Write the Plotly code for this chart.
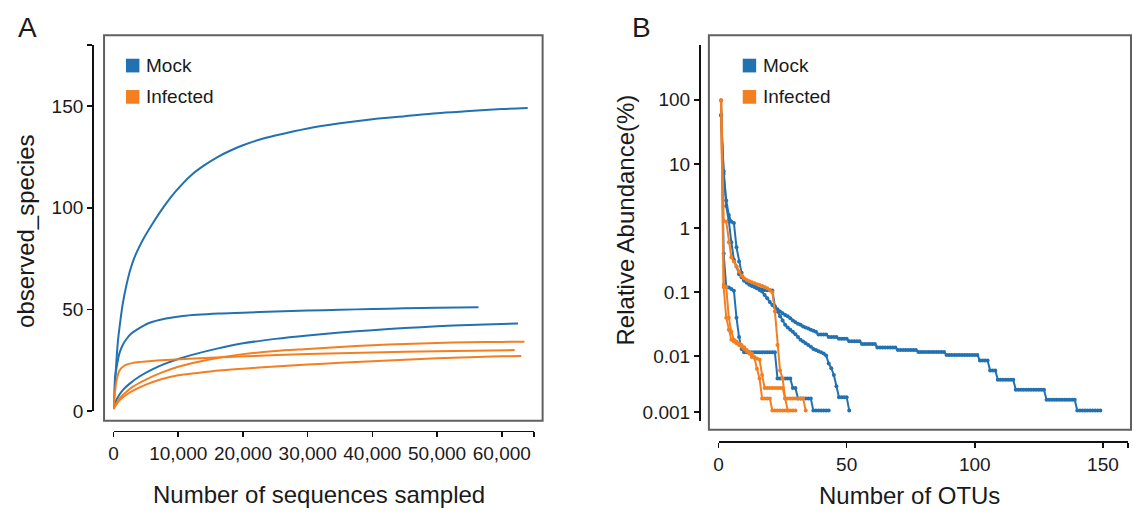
import plotly.graph_objects as go

W, H = 1133, 517
BLUE = "#2271b1"
ORANGE = "#f37f21"
FONT = "Liberation Sans, Arial, sans-serif"

# ---------------- Panel A: rarefaction curves ----------------
mock1_seq = [0, 250, 670, 1000, 1440, 2000, 2500, 3000, 3500, 4500, 6000, 8000, 9600, 12000,
             14000, 16000, 18000, 20000, 22500, 25000, 30000, 35000, 40000, 45000, 50000,
             55000, 60000, 64000]
mock1_obs = [1, 15, 34, 43, 53, 62, 68.5, 73.5, 77.5, 84, 92, 101.5, 108, 116,
             120.8, 124.8, 128, 130.7, 133.4, 135.5, 139, 141.5, 143.5, 145, 146.5,
             147.5, 148.5, 149]
mock2_seq = [0, 150, 500, 920, 1500, 1950, 2700, 3500, 5500, 8100, 10700, 16300, 20000, 25000,
             30000, 35000, 40000, 45000, 50000, 56400]
mock2_obs = [1, 14, 22, 28.5, 33, 35.2, 38, 39.8, 43.3, 45.5, 46.8, 48, 48.4, 49,
             49.4, 49.8, 50.2, 50.5, 50.8, 51.1]
mock3_seq = [0, 300, 800, 1500, 2500, 4000, 6000, 8000, 10000, 12000, 16000, 20000, 25000,
             30000, 35000, 40000, 45000, 50000, 55000, 60000, 62500]
mock3_obs = [1, 4.5, 7.5, 10.5, 13.5, 17, 20.5, 23.3, 25.6, 27.5, 30.7, 33.3, 35.5,
             37.2, 38.6, 39.8, 40.8, 41.7, 42.3, 42.8, 43.1]
inf1_seq = [0, 150, 410, 920, 1700, 3000, 5500, 8100, 15000, 20000, 30000, 40000, 50000, 62000]
inf1_obs = [1, 6, 14, 20, 22.4, 23.7, 24.5, 25.1, 26.2, 26.9, 28, 28.8, 29.4, 30]
inf2_seq = [0, 500, 1000, 2000, 3000, 5000, 7500, 10000, 15000, 20000, 25000, 30000, 35000,
            40000, 45000, 50000, 55000, 60000, 63500]
inf2_obs = [1, 4, 6.5, 9.5, 12, 15.5, 19, 21.8, 25.5, 28, 29.5, 30.5, 31.5,
            32.4, 33, 33.5, 33.8, 34, 34.1]
inf3_seq = [0, 500, 1000, 2000, 3000, 5000, 7500, 10000, 15000, 20000, 25000, 30000, 35000,
            40000, 45000, 50000, 55000, 60000, 63000]
inf3_obs = [1, 3.5, 5.5, 8, 10, 13, 15.8, 17.6, 19.5, 20.8, 21.9, 22.9, 23.7,
            24.5, 25.2, 26, 26.5, 26.9, 27.1]

a_xticks = [0, 10000, 20000, 30000, 40000, 50000, 60000, 65000]
a_xtext = ["0", "10,000", "20,000", "30,000", "40,000", "50,000", "60,000", ""]
a_yticks = [0, 50, 100, 150, 180]
a_ytext = ["0", "50", "100", "150", ""]

# ---------------- Panel B: rank-abundance curves (relative abundance %, by OTU rank) -------
mockA_abund = [57, 7.7, 2.7, 1.6, 1.25, 1.2, 0.5, 0.3, 0.2, 0.155,
               0.145, 0.14, 0.135, 0.125, 0.115, 0.108, 0.102, 0.09, 0.08, 0.07,
               0.063, 0.058, 0.054, 0.05, 0.047, 0.044, 0.042, 0.039, 0.036, 0.034,
               0.032, 0.031, 0.029, 0.028, 0.027, 0.026, 0.025, 0.024,
               0.0219, 0.0219, 0.0219, 0.0219,
               0.0200, 0.0200, 0.0200, 0.0200,
               0.0188, 0.0188, 0.0188, 0.0188,
               0.0172, 0.0172, 0.0172, 0.0172, 0.0172,
               0.0155, 0.0155, 0.0155, 0.0155, 0.0155, 0.0155,
               0.0137, 0.0137, 0.0137, 0.0137, 0.0137, 0.0137, 0.0137, 0.0137,
               0.0125, 0.0125, 0.0125, 0.0125, 0.0125, 0.0125, 0.0125, 0.0125,
               0.0116, 0.0116, 0.0116, 0.0116, 0.0116, 0.0116, 0.0116, 0.0116,
               0.0116, 0.0116, 0.0116,
               0.0105, 0.0105, 0.0105, 0.0105, 0.0105, 0.0105, 0.0105, 0.0105,
               0.0105, 0.0105, 0.0105, 0.0105, 0.0105,
               0.0086, 0.0086, 0.0086, 0.0086,
               0.0060, 0.0060, 0.0060,
               0.0043, 0.0043, 0.0043, 0.0043, 0.0043, 0.0043, 0.0043,
               0.0030, 0.0030, 0.0030, 0.0030, 0.0030, 0.0030, 0.0030, 0.0030,
               0.0030, 0.0030, 0.0030, 0.0030,
               0.0021, 0.0021, 0.0021, 0.0021, 0.0021, 0.0021, 0.0021, 0.0021,
               0.0021, 0.0021, 0.0021, 0.0021,
               0.00143, 0.00143, 0.00143, 0.00143, 0.00143, 0.00143, 0.00143,
               0.00143, 0.00143, 0.00143]
mockB_abund = [58, 7, 2.2, 1.3, 0.6, 0.32, 0.25, 0.19, 0.17, 0.15,
               0.14, 0.13, 0.125, 0.12, 0.115, 0.112, 0.11, 0.108, 0.107, 0.107,
               0.106, 0.06, 0.05, 0.042, 0.036, 0.031, 0.028, 0.026, 0.024, 0.022,
               0.02, 0.018, 0.017, 0.016, 0.015, 0.014, 0.013, 0.0125, 0.012, 0.0115,
               0.011, 0.0103, 0.0077, 0.0065, 0.0051, 0.0034, 0.0023, 0.0023, 0.0023, 0.0023,
               0.00143]
mockC_abund = [98, 0.4, 0.12, 0.118, 0.112, 0.105, 0.04, 0.02, 0.013,
               0.0115, 0.0115, 0.0115, 0.0115, 0.0115, 0.0115, 0.0115, 0.0115, 0.0115,
               0.0115, 0.0115, 0.0115, 0.0115,
               0.0045, 0.0045, 0.0045, 0.0045, 0.0045, 0.0045,
               0.0032, 0.0032,
               0.0022, 0.0022, 0.0022, 0.0022, 0.0022, 0.0022,
               0.00143, 0.00143, 0.00143, 0.00143, 0.00143, 0.00143, 0.00143]
infA_abund = [98.5, 1.3, 1.25, 0.6, 0.35, 0.3, 0.25, 0.21, 0.18, 0.165,
              0.155, 0.148, 0.142, 0.137, 0.133, 0.129, 0.125, 0.12, 0.115, 0.108,
              0.1, 0.05, 0.015, 0.006, 0.0045,
              0.0022, 0.0022, 0.0022, 0.0022, 0.0022, 0.0022, 0.0022, 0.0022,
              0.00143]
infB_abund = [98, 0.12, 0.04, 0.026, 0.018, 0.017, 0.016, 0.015, 0.014, 0.013,
              0.012, 0.011, 0.0097, 0.0095, 0.0064, 0.0045, 0.0022, 0.0022, 0.0022, 0.0022,
              0.00143, 0.00143, 0.00143, 0.00143, 0.00143, 0.00143, 0.00143, 0.00143,
              0.00143, 0.00143]
infC_abund = [97, 0.13, 0.12, 0.04, 0.024, 0.018, 0.017, 0.016, 0.015, 0.0138,
              0.0125, 0.0115, 0.011, 0.0097, 0.0092, 0.0088, 0.0051,
              0.0032, 0.0032, 0.0032, 0.0032, 0.0032, 0.0032, 0.0032, 0.0032,
              0.0022, 0.00143]

b_xticks = [0, 50, 100, 150, 159.8]
b_xtext = ["0", "50", "100", "150", ""]
b_yticks = [720, 100, 10, 1, 0.1, 0.01, 0.00135, 0.00098]
b_ytext = ["", "100", "10", "1", "0.1", "0.01", "0.001", ""]

groups = ["Mock", "Infected"]


def fx(px):
    return px / W


def fy(py):
    return 1 - py / H


fig = go.Figure()

for xs, ys, c in [(mock1_seq, mock1_obs, BLUE), (mock2_seq, mock2_obs, BLUE),
                  (mock3_seq, mock3_obs, BLUE), (inf1_seq, inf1_obs, ORANGE),
                  (inf2_seq, inf2_obs, ORANGE), (inf3_seq, inf3_obs, ORANGE)]:
    fig.add_trace(go.Scatter(x=xs, y=ys, mode="lines", xaxis="x", yaxis="y",
                             line=dict(color=c, width=2, shape="spline", smoothing=0.8),
                             showlegend=False, hoverinfo="skip"))

for vals, c in [(mockA_abund, BLUE), (mockB_abund, BLUE), (mockC_abund, BLUE),
                (infA_abund, ORANGE), (infB_abund, ORANGE), (infC_abund, ORANGE)]:
    fig.add_trace(go.Scatter(x=list(range(1, len(vals) + 1)), y=vals, mode="lines+markers",
                             xaxis="x2", yaxis="y2",
                             line=dict(color=c, width=2),
                             marker=dict(color=c, size=4),
                             showlegend=False, hoverinfo="skip", cliponaxis=False))

axis_common = dict(showline=True, linecolor="#111", linewidth=1.6, ticks="outside",
                   ticklen=5, tickwidth=1.6, tickcolor="#111", showgrid=False,
                   zeroline=False, tickmode="array",
                   tickfont=dict(family=FONT, size=19, color="#1a1a1a"))

fig.update_layout(
    width=W, height=H,
    margin=dict(l=0, r=0, t=0, b=0),
    paper_bgcolor="white", plot_bgcolor="white",
    font=dict(family=FONT, color="#1a1a1a"),
    hovermode=False,
    xaxis=dict(domain=[fx(109), fx(531.5)], range=[0, 65000], anchor="free", position=fy(440),
               tickvals=a_xticks, ticktext=a_xtext, **axis_common),
    yaxis=dict(domain=[fy(420), fy(46)], range=[0, 180], anchor="free", position=fx(87.5),
               tickvals=a_yticks, ticktext=a_ytext, **axis_common),
    xaxis2=dict(domain=[fx(716.7), fx(1128)], range=[0, 159.8], anchor="free", position=fy(451),
                tickvals=b_xticks, ticktext=b_xtext, **axis_common),
    yaxis2=dict(domain=[fy(430), fy(46)], type="log", range=[-3.008, 2.855], anchor="free",
                position=fx(697), tickvals=b_yticks, ticktext=b_ytext, **axis_common),
)

shapes = []
annotations = []
# frames
for (x0, y0, x1, y1) in [(99.5, 36, 540, 430), (707, 36, 1131, 439)]:
    shapes.append(dict(type="rect", xref="paper", yref="paper", x0=fx(x0), x1=fx(x1),
                       y0=fy(y1), y1=fy(y0), line=dict(color="#606060", width=2),
                       fillcolor="rgba(0,0,0,0)", layer="below"))

# legends
for lx in [121.5, 741]:
    for i, (g, c) in enumerate(zip(groups, [BLUE, ORANGE])):
        cy = 67 + i * 32
        shapes.append(dict(type="rect", xref="paper", yref="paper", x0=fx(lx), x1=fx(lx + 13.5),
                           y0=fy(cy + 7), y1=fy(cy - 7), line=dict(width=0), fillcolor=c))
        annotations.append(dict(x=fx(lx + 18), y=fy(cy), xref="paper", yref="paper", text=g,
                                showarrow=False, xanchor="left", yanchor="middle",
                                font=dict(family=FONT, size=19, color="#1a1a1a")))

# titles
title_font = dict(family=FONT, size=24, color="#1a1a1a")
annotations += [
    dict(x=fx(315), y=fy(505), text="Number of sequences sampled", showarrow=False,
         xref="paper", yref="paper", xanchor="center", yanchor="middle", font=title_font),
    dict(x=fx(909), y=fy(506), text="Number of OTUs", showarrow=False,
         xref="paper", yref="paper", xanchor="center", yanchor="middle", font=title_font),
    dict(x=fx(21), y=fy(236), text="observed_species", showarrow=False, textangle=-90,
         xref="paper", yref="paper", xanchor="center", yanchor="middle", font=title_font),
    dict(x=fx(623), y=fy(225), text="Relative Abundance(%)", showarrow=False, textangle=-90,
         xref="paper", yref="paper", xanchor="center", yanchor="middle", font=title_font),
    dict(x=fx(23), y=fy(28), text="A", showarrow=False, xref="paper", yref="paper",
         xanchor="center", yanchor="middle", font=dict(family=FONT, size=28, color="#1a1a1a")),
    dict(x=fx(639), y=fy(28), text="B", showarrow=False, xref="paper", yref="paper",
         xanchor="center", yanchor="middle", font=dict(family=FONT, size=28, color="#1a1a1a")),
]

fig.update_layout(shapes=shapes, annotations=annotations)
fig.write_html("out.html", config={"displayModeBar": False, "staticPlot": True},
               post_script="document.body.style.margin='0px';document.body.style.overflow='hidden';")
